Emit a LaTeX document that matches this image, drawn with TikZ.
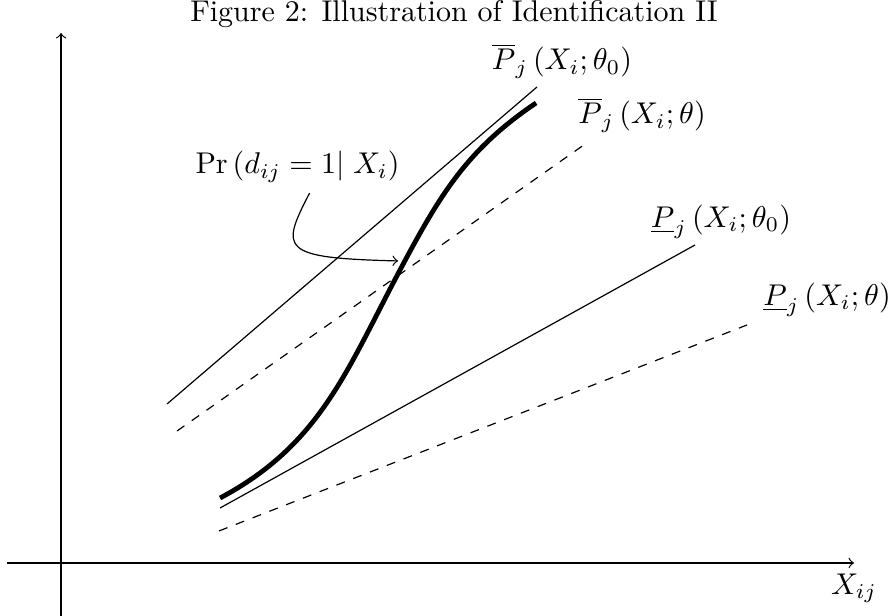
\documentclass[tikz,border=0pt]{standalone}
\usepackage{amsmath}
\begin{document}
\begin{tikzpicture}[bound/.style={thin}, altbound/.style={thin, dashed}, prob/.style={ultra thick}]
    \useasboundingbox (-0.715,-0.621) rectangle (9.723,6.595);
    \node (title) at (4.604,6.432) {Figure 2: Illustration of Identification II};
    % axes
    \draw[->] (0,-0.621) -- (0,6.209);
    \draw[->] (-0.633,0) -- (9.29,0) node[below] (xlab) {$X_{ij}$};
    % end points of the bounds
    \coordinate (ub0-a) at (1.242,1.863);
    \coordinate (ub0-b) at (5.576,5.576);
    \coordinate (ub-a) at (1.359,1.546);
    \coordinate (ub-b) at (6.174,4.932);
    \coordinate (lb0-a) at (1.863,0.644);
    \coordinate (lb0-b) at (7.427,3.725);
    \coordinate (lb-a) at (1.851,0.375);
    \coordinate (lb-b) at (8.036,2.788);
    \draw[bound] (ub0-a) -- (ub0-b);
    \draw[altbound] (ub-a) -- (ub-b);
    \draw[bound] (lb0-a) -- (lb0-b);
    \draw[altbound] (lb-a) -- (lb-b);
    \node (ub0-lab) at (5.869,5.88) {$\overline{P}_j\left(X_i;\theta_0\right)$};
    \node (ub-lab) at (6.806,5.248) {$\overline{P}_j\left(X_i;\theta\right)$};
    \node (lb0-lab) at (7.732,3.995) {$\underline{P}_j\left(X_i;\theta_0\right)$};
    \node (lb-lab) at (8.974,3.081) {$\underline{P}_j\left(X_i;\theta\right)$};
    % choice probability
    \coordinate (cdf-a) at (1.863,0.761);
    \coordinate (cdf-m) at (3.971,3.432);
    \coordinate (cdf-b) at (5.565,5.389);
    \draw[prob] (cdf-a) to[out=28,in=242] (cdf-m) to[out=62,in=214] (cdf-b);
    \node (pr) at (2.771,4.639) {$\Pr\left(d_{ij}=1\right|\left.X_i\right)$};
    \coordinate (hit) at (3.948,3.538);
    \draw[->] ([xshift=4pt]pr.south) .. controls (2.566,3.667) and (2.566,3.573) .. (hit);
\end{tikzpicture}
\end{document}
